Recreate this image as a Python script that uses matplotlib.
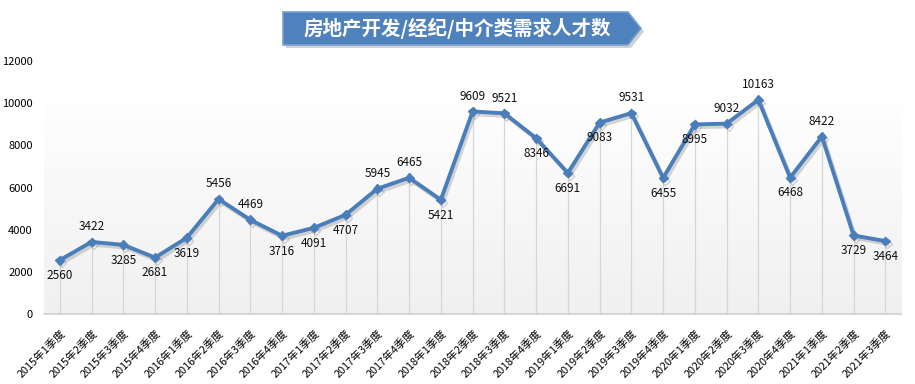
import numpy as np
import matplotlib
matplotlib.use('Agg')
import matplotlib.pyplot as plt
from matplotlib import patheffects
from matplotlib.patches import Polygon

plt.rcParams['font.family'] = ['Noto Sans CJK SC', 'DejaVu Sans']

quarters = ['2015年1季度', '2015年2季度', '2015年3季度', '2015年4季度',
            '2016年1季度', '2016年2季度', '2016年3季度', '2016年4季度',
            '2017年1季度', '2017年2季度', '2017年3季度', '2017年4季度',
            '2018年1季度', '2018年2季度', '2018年3季度', '2018年4季度',
            '2019年1季度', '2019年2季度', '2019年3季度', '2019年4季度',
            '2020年1季度', '2020年2季度', '2020年3季度', '2020年4季度',
            '2021年1季度', '2021年2季度', '2021年3季度']
demand = [2560, 3422, 3285, 2681, 3619, 5456, 4469, 3716, 4091, 4707,
          5945, 6465, 5421, 9609, 9521, 8346, 6691, 9083, 9531, 6455,
          8995, 9032, 10163, 6468, 8422, 3729, 3464]
# label above (1) or below (-1) the point
label_side = [-1, 1, -1, -1, -1, 1, 1, -1, -1, -1,
              1, 1, -1, 1, 1, -1, -1, -1, 1, -1,
              -1, 1, 1, -1, 1, -1, -1]
title = '房地产开发/经纪/中介类需求人才数'

line_color = '#4a7ebb'

fig = plt.figure(figsize=(9.15, 3.84), dpi=100)
ax = fig.add_axes([0.048, 0.182, 0.937, 0.659])

x = np.arange(len(quarters))
ax.set_xlim(-0.5, len(quarters) - 0.5)
ax.set_ylim(0, 12000)

# gradient plot background
grad = np.linspace(1.0, 0.0, 256).reshape(-1, 1)
ax.imshow(grad, extent=[-0.5, len(quarters) - 0.5, 0, 10500], aspect='auto',
          cmap=matplotlib.colors.LinearSegmentedColormap.from_list('g', ['#ffffff', '#f0f0f0']),
          zorder=0, origin='lower')

# drop lines
ax.vlines(x, 0, demand, colors='#d6d6d6', linewidth=0.9, zorder=1)

ax.plot(x, demand, color=line_color, linewidth=2.8, marker='D', markersize=4.5,
        zorder=3,
        path_effects=[patheffects.SimpleLineShadow(offset=(1.5, -2), shadow_color='#888888', alpha=0.35),
                      patheffects.Normal()])

for xi, v, s in zip(x, demand, label_side):
    ax.annotate(str(v), (xi, v), xytext=(0, 11 * s), textcoords='offset points',
                ha='center', va='center', fontsize=8.5, color='#111111', zorder=4)

for sp in ['top', 'right', 'left']:
    ax.spines[sp].set_visible(False)
ax.spines['bottom'].set_color('#d0d0d0')
ax.spines['bottom'].set_linewidth(1.2)

ax.set_yticks(range(0, 12001, 2000))
ax.tick_params(axis='y', length=0, labelsize=8, pad=8)
ax.set_xticks(x)
ax.set_xticklabels(quarters, rotation=45, ha='right', rotation_mode='anchor', fontsize=7.8)
for lbl in ax.get_xticklabels():
    lbl.set_transform(lbl.get_transform() + matplotlib.transforms.ScaledTranslation(6 / 100, 0, fig.dpi_scale_trans))
ax.tick_params(axis='x', length=0, pad=10)
ax.grid(False)

# title banner (arrow shape)
W, H = 915.0, 384.0
pts = [(283, 12), (628, 12), (641, 28.5), (628, 45), (283, 45)]
shadow = Polygon([((px + 3) / W, 1 - (py + 3) / H) for px, py in pts], closed=True,
                 transform=fig.transFigure, facecolor='#999999', alpha=0.45, edgecolor='none')
banner = Polygon([(px / W, 1 - py / H) for px, py in pts], closed=True,
                 transform=fig.transFigure, facecolor='#4f81bd', edgecolor='#7aa0d0', linewidth=1.2)
fig.patches.extend([shadow, banner])
fig.text(457 / W, 1 - 28.5 / H, title, ha='center', va='center', color='white',
         fontsize=14, fontweight='bold')

fig.savefig('out.png', dpi=100)
